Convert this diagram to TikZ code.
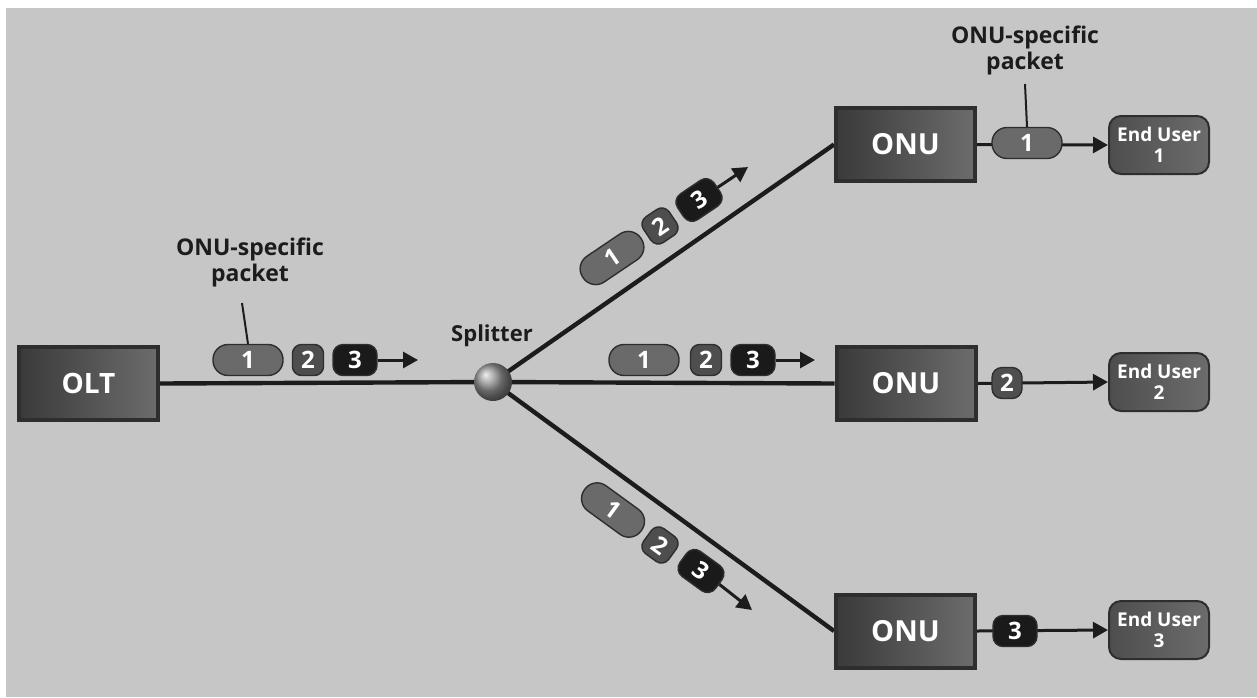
\documentclass[tikz,border=0pt]{standalone}
\usepackage{fontspec}
\setmainfont{Open Sans}
\usetikzlibrary{arrows.meta,backgrounds}
\definecolor{bg}{HTML}{C6C6C6}
\definecolor{boxedge}{HTML}{2E2E2E}
\definecolor{boxdark}{HTML}{3A3A3A}
\definecolor{boxlight}{HTML}{6C6C6C}
\definecolor{ink}{HTML}{1C1C1C}
\definecolor{pkone}{HTML}{6A6A6A}
\definecolor{pktwo}{HTML}{4E4E4E}
\definecolor{pkthree}{HTML}{1A1A1A}
\tikzset{
  unitbox/.style={draw=boxedge, line width=2pt, left color=boxdark, right color=boxlight,
    minimum width=69.5pt, minimum height=36.5pt, inner sep=0pt, text=white,
    font=\bfseries\fontsize{14.5}{14.5}\selectfont},
  userbox/.style={draw=boxedge, line width=1pt, rounded corners=6pt, left color=boxdark!90, right color=boxlight,
    minimum width=50pt, minimum height=29pt, inner sep=0pt, text=white, align=center,
    font=\bfseries\fontsize{9.5}{10.5}\selectfont},
  pkbase/.style={draw=boxedge, line width=0.7pt, text=white, inner sep=0pt, minimum height=15.5pt,
    font=\bfseries\fontsize{12}{12}\selectfont},
  pkone/.style={pkbase, fill=pkone, rounded corners=7.5pt, minimum width=35pt},
  pktwo/.style={pkbase, fill=pktwo, rounded corners=4.5pt, minimum width=15.5pt},
  pkthree/.style={pkbase, fill=pkthree, rounded corners=5pt, minimum width=22pt},
  fiber/.style={draw=ink, line width=2.2pt},
  flow/.style={draw=ink, line width=1.5pt, -{Triangle[length=7.5pt,width=8pt]}},
  callout/.style={draw=ink, line width=1pt},
  lbl/.style={text=ink, align=center, font=\bfseries\fontsize{11.5}{13}\selectfont, inner sep=0pt}
}
\begin{document}
\begin{tikzpicture}[x=0.5pt,y=-0.5pt]
\useasboundingbox (0,0) rectangle (1257,697);
% nodes
\node[unitbox, font=\bfseries\fontsize{14}{14}\selectfont] (olt) at (88.5,383.5) {OLT};
\node[unitbox] (onu1) at (905.5,144.5) {ONU};
\node[unitbox] (onu2) at (906,383.5) {ONU};
\node[unitbox] (onu3) at (905.5,631) {ONU};
\node[userbox] (eu1) at (1159,145) {End User\\1};
\node[userbox] (eu2) at (1159,382) {End User\\2};
\node[userbox] (eu3) at (1159,630) {End User\\3};
\node[circle, minimum size=19pt, inner sep=0pt, shading=ball, ball color=gray!85] (spl) at (493,382) {};
\node[lbl, font=\bfseries\fontsize{11}{11}\selectfont] (spllbl) at (492,336) {Splitter};
% background and fibers
\begin{scope}[on background layer]
  \fill[white] (0,0) rectangle (1257,697);
  \fill[bg] (6,8) rectangle (1257,697);
  \draw[fiber] (olt.east) -- (spl.center);
  \draw[fiber] (spl.center) -- (onu1.west);
  \draw[fiber] (spl.center) -- (onu2.west);
  \draw[fiber] (spl.center) -- (onu3.west);
  \draw[flow] (onu1.east) -- (eu1.west);
  \draw[flow] (onu2.east) -- (eu2.west);
  \draw[flow] (onu3.east) -- (eu3.west);
\end{scope}
% OLT packets
\node[pkone] (a1) at (248,360) {1};
\node[pktwo] (a2) at (308,360) {2};
\node[pkthree] (a3) at (355,360) {3};
\coordinate (a4) at (418,360);
\draw[flow] (a3.east) -- (a4);
\node[lbl] (lbla) at (250,262) {ONU-specific\\packet};
\coordinate (ca) at (242,303);
\draw[callout] (ca) -- (a1.north);
% middle packets
\node[pkone] (b1) at (644,360) {1};
\node[pktwo] (b2) at (706,360) {2};
\node[pkthree] (b3) at (753,360) {3};
\coordinate (b4) at (815,360);
\draw[flow] (b3.east) -- (b4);
% upper packets
\node[pkone, rotate=34] (c1) at (612,258) {1};
\node[pktwo, rotate=34] (c2) at (660,226) {2};
\node[pkthree, rotate=34] (c3) at (699,200) {3};
\coordinate (c4) at (748,167);
\draw[flow] (c3.east) -- (c4);
% lower packets
\node[pkone, rotate=-36] (d1) at (613,510) {1};
\node[pktwo, rotate=-36] (d2) at (660,545) {2};
\node[pkthree, rotate=-36] (d3) at (701,571) {3};
\coordinate (d4) at (752,610);
\draw[flow] (d3.east) -- (d4);
% ONU-side packets
\node[pkone] (e1) at (1027,143) {1};
\node[pktwo, minimum width=15pt, rounded corners=5pt] (e2) at (1007,383) {2};
\node[pkthree, minimum width=22pt] (e3) at (1015,631) {3};
\node[lbl] (lble) at (1025,50) {ONU-specific\\packet};
\coordinate (ce) at (1025,84);
\draw[callout] (ce) -- (e1.north);
\end{tikzpicture}
\end{document}
